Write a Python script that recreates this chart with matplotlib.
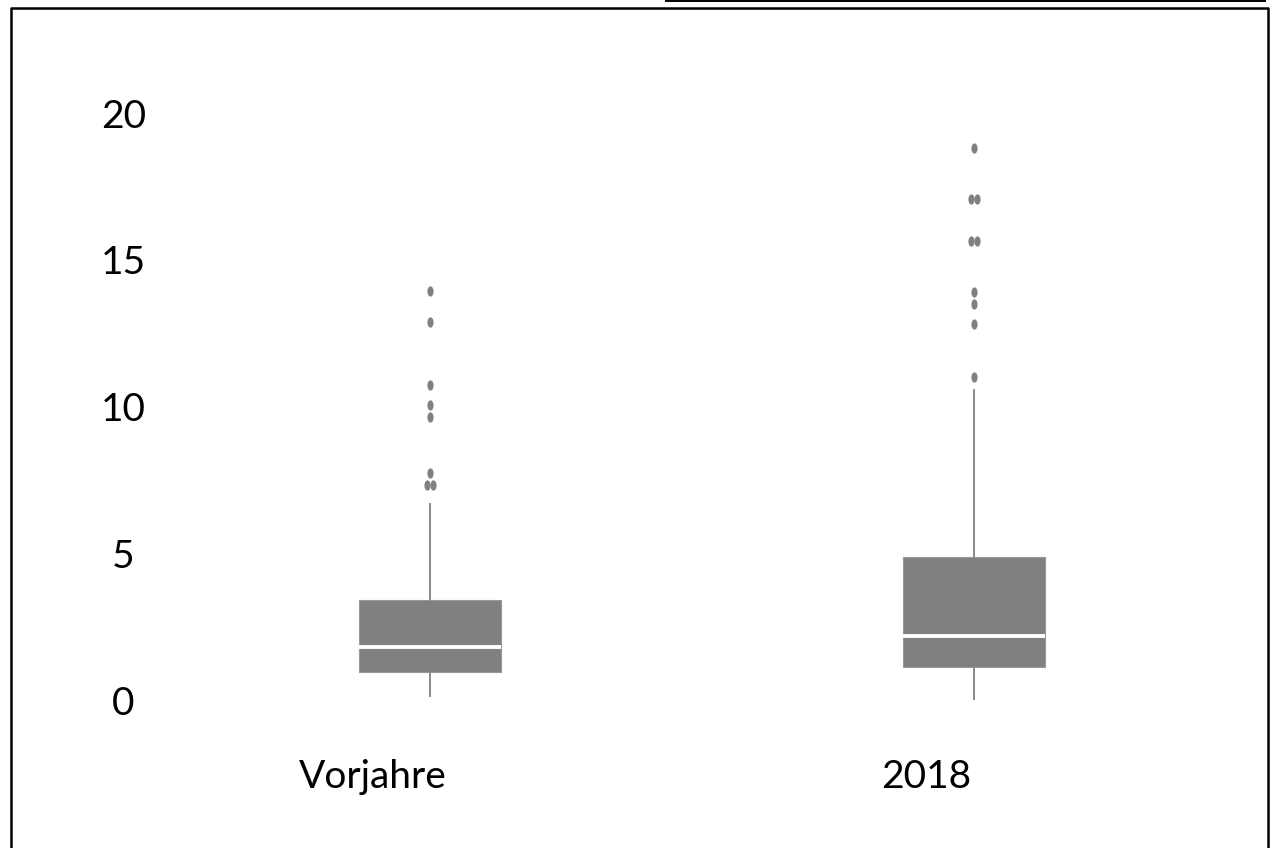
import numpy as np
import matplotlib
matplotlib.use("Agg")
import matplotlib.pyplot as plt
import matplotlib.transforms as mtransforms
from matplotlib.path import Path
from matplotlib.lines import Line2D

# Daten
gruppen = ["Vorjahre", "2018"]
q1 = [0.95, 1.13]
median = [1.81, 2.18]
q3 = [3.41, 4.88]
whisker_unten = [0.14, 0.02]
whisker_oben = [6.67, 10.56]
ausreisser_vorjahre = [13.95, 12.89, 10.73, 10.05, 9.65, 7.73, 7.33, 7.33]
ausreisser_2018 = [18.80, 17.07, 17.07, 15.64, 15.64, 13.89, 13.50, 12.81, 10.99]
ausreisser = [ausreisser_vorjahre, ausreisser_2018]
y_ticks = [0, 5, 10, 15, 20]

grau = "#808080"
plt.rcParams['font.family'] = ['Lato', 'DejaVu Sans']

fig = plt.figure(figsize=(12.78, 8.48), dpi=100)
ax = fig.add_axes([0.1236, 0.1392, 0.8513, 0.8019])

stats = []
for i in range(len(gruppen)):
    stats.append(dict(med=median[i], q1=q1[i], q3=q3[i],
                      whislo=whisker_unten[i], whishi=whisker_oben[i],
                      fliers=[], label=gruppen[i]))

pos = np.arange(len(gruppen))
ax.bxp(stats, positions=pos, widths=0.26, patch_artist=True, showcaps=False,
       showfliers=False,
       boxprops=dict(facecolor=grau, edgecolor="#999999", linewidth=0.8),
       medianprops=dict(color="white", linewidth=2.8),
       whiskerprops=dict(color="#8a8a8a", linewidth=1.4))

# Ausreisser als schmale Ellipsen, doppelte Werte nebeneinander
ellipse = Path.unit_circle().transformed(mtransforms.Affine2D().scale(0.6, 1.0))
for i, werte in enumerate(ausreisser):
    werte = np.array(werte)
    for v in np.unique(werte):
        n = np.sum(werte == v)
        xs = pos[i] + (np.arange(n) - (n - 1) / 2) * 0.011
        ax.scatter(xs, [v] * n, marker=ellipse, s=55, color=grau, linewidths=0)

ax.set_xlim(-0.5, 1.5)
ax.set_ylim(-1.02, 22.15)
ax.set_xticks(pos)
ax.set_xticklabels(gruppen, fontsize=28)
ax.set_yticks(y_ticks)
ax.set_yticklabels([str(t) for t in y_ticks], fontsize=28)
ax.tick_params(length=0)
ax.tick_params(axis="y", pad=25)
ax.tick_params(axis="x", pad=21)
for lab in ax.get_yticklabels():
    lab.set_horizontalalignment("center")
# Beschriftungen stehen links neben den Boxen
for lab, dx in zip(ax.get_xticklabels(), [-57, -48]):
    versatz = mtransforms.ScaledTranslation(dx / 100, 0, fig.dpi_scale_trans)
    lab.set_transform(lab.get_transform() + versatz)
for s in ax.spines.values():
    s.set_visible(False)

# Rahmen
W, H = 1278, 848
def linie(xp, yp, lw=1.8):
    fig.add_artist(Line2D(np.array(xp) / W, 1 - np.array(yp) / H, color="black", linewidth=lw))
linie([11, 11, 1268, 1268], [848, 8, 8, 848])
linie([666, 1265], [1, 1], lw=1.4)

fig.savefig("out.png", dpi=100)
